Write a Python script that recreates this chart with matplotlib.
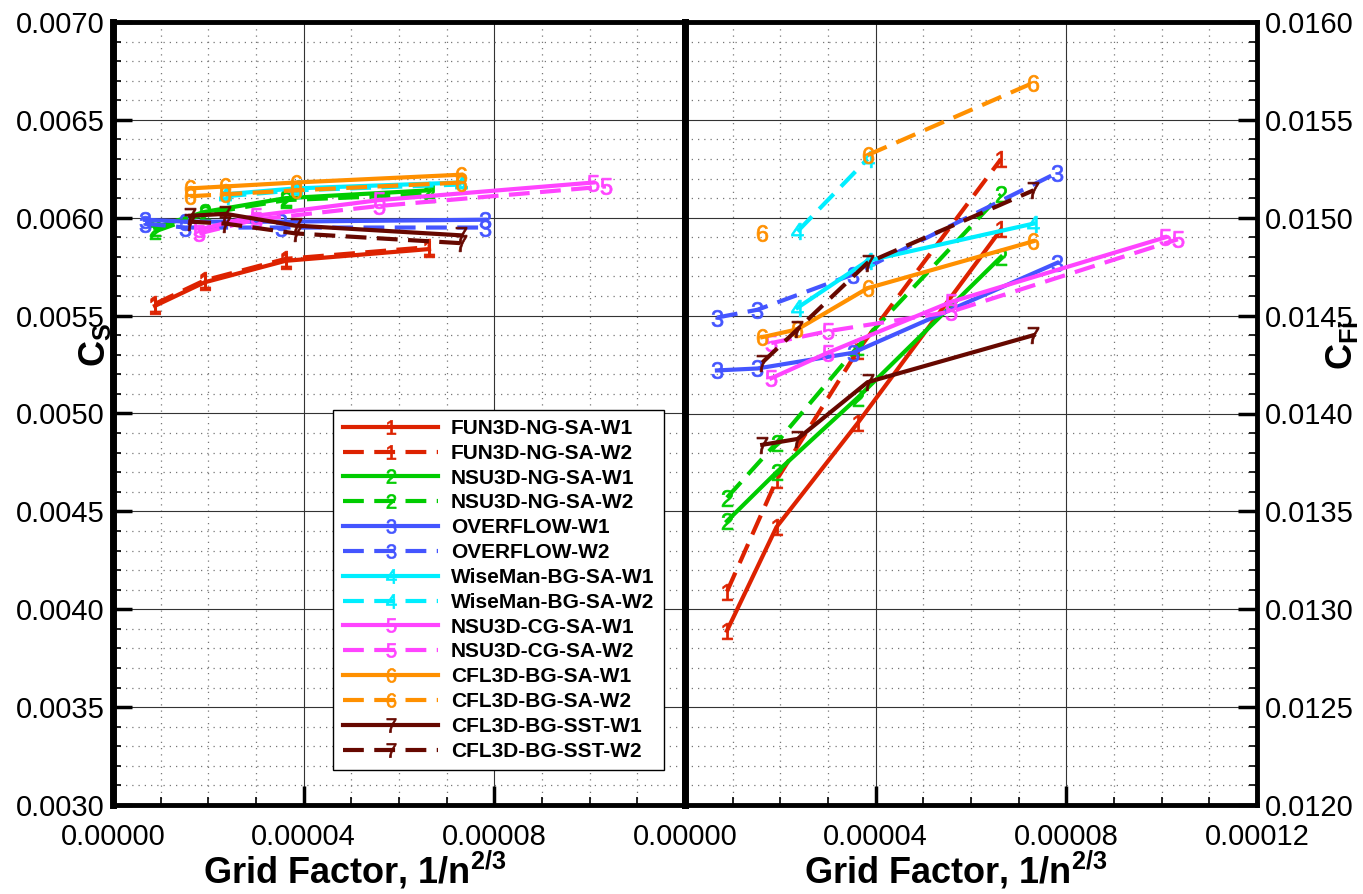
import numpy as np
import matplotlib
matplotlib.use("Agg")
from matplotlib import pyplot as plt
from matplotlib.ticker import MultipleLocator, FormatStrFormatter

plt.rcParams['font.family'] = ['Liberation Sans', 'DejaVu Sans']
plt.rcParams['mathtext.default'] = 'regular'

# grid factors (1/n^(2/3)) for each grid family
x_ng = [8.8e-6, 1.92e-5, 3.62e-5, 6.63e-5]
x_of = [6.7e-6, 1.52e-5, 3.52e-5, 7.81e-5]
x_bg = [1.62e-5, 2.36e-5, 3.83e-5, 7.31e-5]
x_wm = [2.36e-5, 3.83e-5, 7.31e-5]
x_cg1 = [1.81e-5, 2.99e-5, 5.58e-5, 1.008e-4]
x_cg2 = [1.81e-5, 2.99e-5, 5.58e-5, 1.034e-4]

names = ['FUN3D-NG-SA-W1', 'FUN3D-NG-SA-W2', 'NSU3D-NG-SA-W1', 'NSU3D-NG-SA-W2',
         'OVERFLOW-W1', 'OVERFLOW-W2', 'WiseMan-BG-SA-W1', 'WiseMan-BG-SA-W2',
         'NSU3D-CG-SA-W1', 'NSU3D-CG-SA-W2', 'CFL3D-BG-SA-W1', 'CFL3D-BG-SA-W2',
         'CFL3D-BG-SST-W1', 'CFL3D-BG-SST-W2']

# left panel (C_S)
cs_fun1 = [0.00555, 0.00567, 0.00578, 0.00584]
cs_fun2 = [0.00556, 0.00568, 0.00579, 0.00585]
cs_nng1 = [0.00595, 0.00603, 0.00610, 0.00614]
cs_nng2 = [0.00593, 0.00602, 0.00609, 0.00612]
cs_of1 = [0.00599, 0.00598, 0.00598, 0.00599]
cs_of2 = [0.00597, 0.00595, 0.00595, 0.00595]
cs_wm1 = [0.00612, 0.00615, 0.00618]
cs_wm2 = [0.00611, 0.00614, 0.00617]
cs_ncg1 = [0.00594, 0.00601, 0.00609, 0.00618]
cs_ncg2 = [0.00592, 0.00599, 0.00606, 0.00616]
cs_sa1 = [0.00615, 0.00616, 0.00618, 0.00622]
cs_sa2 = [0.00611, 0.00612, 0.00614, 0.00618]
cs_sst1 = [0.00601, 0.00602, 0.00596, 0.00591]
cs_sst2 = [0.00598, 0.00597, 0.00592, 0.00587]

# right panel (C_Fi)
cf_fun1 = [0.01289, 0.01342, 0.01395, 0.01494]
cf_fun2 = [0.01309, 0.01366, 0.01432, 0.01530]
cf_nng1 = [0.01345, 0.01370, 0.01408, 0.01480]
cf_nng2 = [0.01357, 0.01385, 0.01434, 0.01512]
cf_of1 = [0.01422, 0.01423, 0.01431, 0.01477]
cf_of2 = [0.01449, 0.01453, 0.01471, 0.01523]
cf_wm1 = [0.01454, 0.01478, 0.01497]
cf_wm2 = [0.01493, 0.01530, np.nan]
cf_ncg1 = [0.01418, 0.01431, 0.01457, 0.01490]
cf_ncg2 = [0.01436, 0.01442, 0.01452, 0.01489]
cf_sa1 = [0.01439, 0.01443, 0.01464, 0.01488]
cf_sa2 = [0.01492, np.nan, 0.01532, 0.01569]
cf_sst1 = [0.01384, 0.01387, 0.01416, 0.01440]
cf_sst2 = [0.01426, 0.01443, 0.01477, 0.01514]

colors = ['#dd2200', '#00cc00', '#4455ff', '#00eeff', '#ff44ff', '#ff9000', '#660800']
xs = [x_ng, x_ng, x_ng, x_ng, x_of, x_of, x_wm, x_wm, x_cg1, x_cg2, x_bg, x_bg, x_bg, x_bg]
left_y = [cs_fun1, cs_fun2, cs_nng1, cs_nng2, cs_of1, cs_of2, cs_wm1, cs_wm2,
          cs_ncg1, cs_ncg2, cs_sa1, cs_sa2, cs_sst1, cs_sst2]
right_y = [cf_fun1, cf_fun2, cf_nng1, cf_nng2, cf_of1, cf_of2, cf_wm1, cf_wm2,
           cf_ncg1, cf_ncg2, cf_sa1, cf_sa2, cf_sst1, cf_sst2]

fig = plt.figure(figsize=(13.63, 8.94), dpi=100)
W, H = 1363.0, 894.0
axL = fig.add_axes([113/W, 89/H, 572/W, 783/H])
axR = fig.add_axes([685/W, 89/H, 572/W, 783/H])


def style(ax, lo, hi):
    ax.set_xlim(0, 0.00012)
    ax.set_ylim(lo, hi)
    ax.xaxis.set_major_locator(MultipleLocator(0.00004))
    ax.xaxis.set_minor_locator(MultipleLocator(0.00001))
    ax.yaxis.set_major_locator(MultipleLocator(0.0005))
    ax.yaxis.set_minor_locator(MultipleLocator(0.0001))
    ax.xaxis.set_major_formatter(FormatStrFormatter('%.5f'))
    ax.yaxis.set_major_formatter(FormatStrFormatter('%.4f'))
    ax.set_axisbelow(True)
    ax.grid(which='major', color='#333333', linewidth=0.8, linestyle='-')
    ax.grid(which='minor', color='#777777', linewidth=0.9, linestyle=(0, (1, 4)))
    ax.tick_params(which='major', direction='in', length=14, width=2.5, labelsize=21, pad=6)
    ax.tick_params(which='minor', direction='in', length=6, width=1.2)
    ax.tick_params(axis='x', which='major', pad=13)
    ax.tick_params(axis='x', top=False, which='both')
    ax.spines['top'].set_linewidth(3.5)
    ax.spines['bottom'].set_linewidth(3.5)


style(axL, 0.0030, 0.0070)
style(axR, 0.0120, 0.0160)
axL.tick_params(axis='y', which='both', left=True, right=False)
axL.spines['left'].set_linewidth(5)
axL.spines['right'].set_linewidth(5)
axR.spines['left'].set_linewidth(5)
axR.spines['right'].set_linewidth(3.5)
axR.yaxis.tick_right()
axR.tick_params(axis='y', which='both', left=False, right=True)
axL.set_xticks([0, 0.00004, 0.00008, 0.00012])
axL.set_xticklabels(['0.00000', '0.00004', '0.00008', ''])

for i in range(14):
    c = colors[i // 2]
    ls = '-' if i % 2 == 0 else (0, (5, 2.5))
    mk = '$%d$' % (i // 2 + 1)
    for ax, ys in ((axL, left_y[i]), (axR, right_y[i])):
        ax.plot(xs[i], ys, color=c, linestyle=ls, linewidth=3, marker=mk,
                markersize=12, markeredgewidth=0.5, label=names[i] if ax is axL else None)

leg = axL.legend(loc='upper left', bbox_to_anchor=(0.385, 0.505), borderaxespad=0,
                 frameon=True, fancybox=False, framealpha=1, edgecolor='black',
                 numpoints=1, handlelength=4.6, handletextpad=0.6, labelspacing=0.28,
                 borderpad=0.45, markerscale=0.85, prop={'size': 15, 'weight': 'bold'})
leg.get_frame().set_linewidth(1.0)

fig.text(355/W, 1 - 870/H, 'Grid Factor, 1/n$^{2/3}$', ha='center', va='center',
         fontsize=26, fontweight='bold')
fig.text(956/W, 1 - 870/H, 'Grid Factor, 1/n$^{2/3}$', ha='center', va='center',
         fontsize=26, fontweight='bold')
fig.text(95/W, 1 - 345/H, 'C$_S$', rotation=90, ha='center', va='center',
         fontsize=26, fontweight='bold')
fig.text(1342/W, 1 - 345/H, 'C$_{Fi}$', rotation=90, ha='center', va='center',
         fontsize=26, fontweight='bold')

plt.savefig('out.png', dpi=100)
